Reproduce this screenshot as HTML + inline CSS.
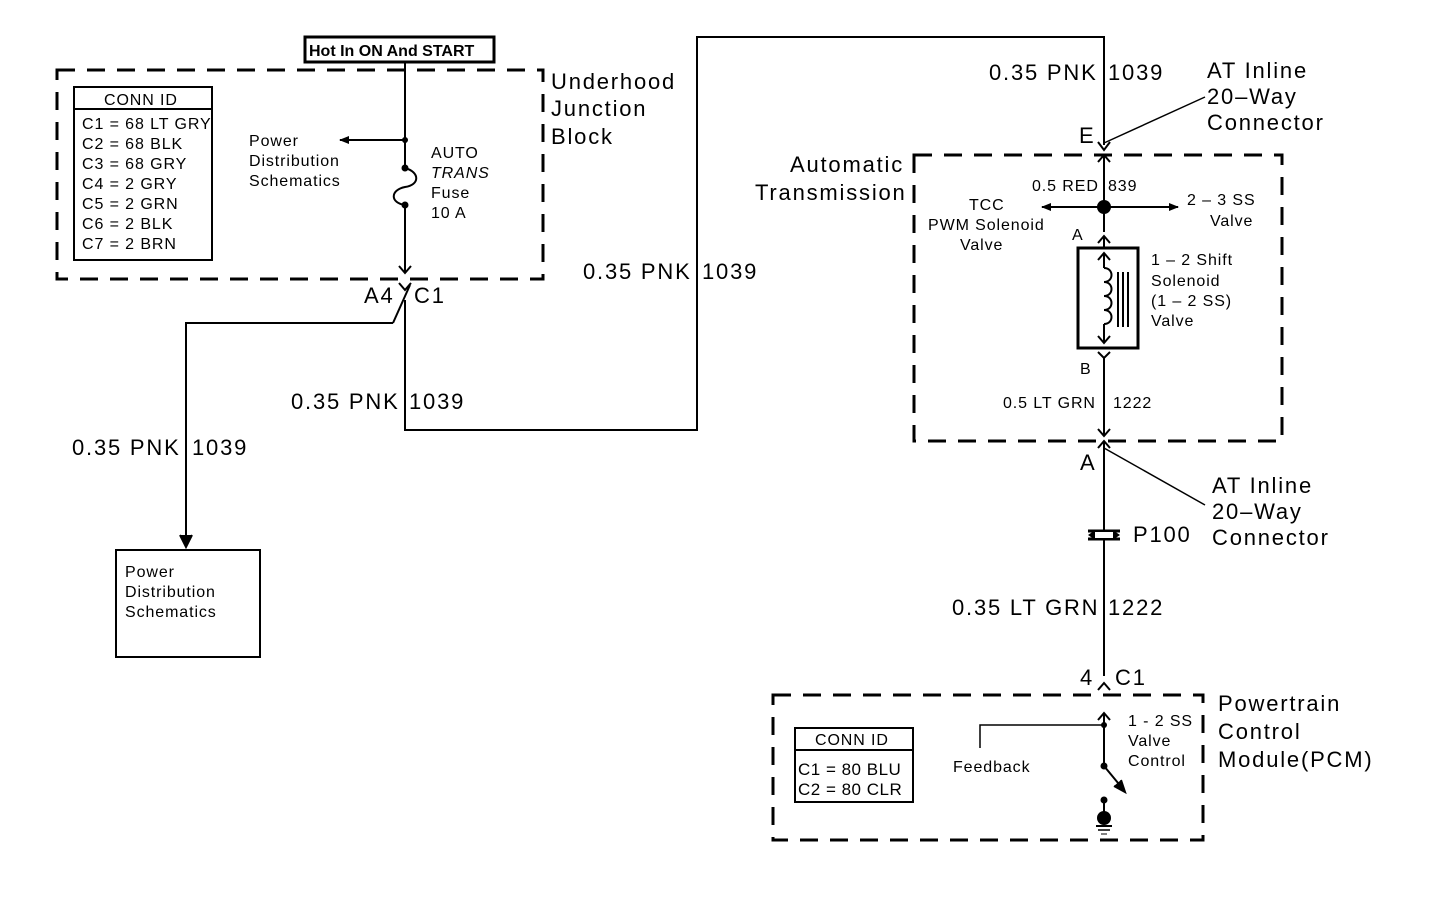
<!DOCTYPE html>
<html><head><meta charset="utf-8"><style>
html,body{margin:0;padding:0;background:#fff;}
svg{display:block;}
text{font-family:"Liberation Sans",sans-serif;fill:#000;}
.b{font-size:22px;letter-spacing:1.8px;}
.s{font-size:16px;letter-spacing:0.9px;}
</style></head><body>
<svg width="1440" height="910" viewBox="0 0 1440 910" xmlns="http://www.w3.org/2000/svg">
<defs>
<marker id="ar" markerWidth="10" markerHeight="8" refX="9" refY="4" orient="auto" markerUnits="userSpaceOnUse"><path d="M0,0 L10,4 L0,8 z" fill="#000"/></marker>
</defs>
<g fill="none" stroke="#000" stroke-width="2">
<rect x="57" y="70" width="486" height="209" stroke-width="3" stroke-dasharray="18,12"/>
<rect x="914" y="155" width="368" height="286" stroke-width="3" stroke-dasharray="18,12"/>
<rect x="773" y="695" width="430" height="145" stroke-width="3" stroke-dasharray="18,12"/>
<rect x="305" y="37" width="189" height="25" stroke-width="3"/>
<rect x="74" y="87" width="138" height="173"/>
<line x1="74" y1="109" x2="212" y2="109"/>
<rect x="795" y="728" width="118" height="74"/>
<line x1="795" y1="750" x2="913" y2="750"/>
<line x1="405" y1="62" x2="405" y2="168"/>
<path d="M405,168 C420,172 420,185 405,187 C390,190 390,203 405,205"/>
<line x1="405" y1="205" x2="405" y2="272"/>
<path d="M399,266 L405,273 L411,266"/>
<line x1="405" y1="140" x2="340" y2="140" marker-end="url(#ar)"/>
<path d="M399,283 L405,290 L411,283"/>
<line x1="410" y1="285" x2="393" y2="323"/>
<polyline points="393,323 186,323 186,540"/>
<path d="M180,535 L186,547 L192,535" fill="#000"/>
<polyline points="405,300 405,430 697,430 697,37 1104,37 1104,145"/>
<rect x="116" y="550" width="144" height="107"/>
<path d="M1098,142 L1104,150 L1110,142"/>
<line x1="1104" y1="143" x2="1205" y2="97" stroke-width="1.5"/>
<path d="M1098,162 L1104,155 L1110,162"/>
<line x1="1104" y1="156" x2="1104" y2="232"/>
<line x1="1104" y1="207" x2="1042" y2="207" marker-end="url(#ar)"/>
<line x1="1104" y1="207" x2="1178" y2="207" marker-end="url(#ar)"/>
<path d="M1098,243 L1104,236 L1110,243"/>
<line x1="1104" y1="237" x2="1104" y2="248"/>
<rect x="1078" y="248" width="60" height="100" stroke-width="3"/>
<path d="M1098,260 L1104,253 L1110,260"/>
<line x1="1104" y1="254" x2="1104" y2="268"/>
<path d="M1104,268 c10,0 10,14 0,14 c10,0 10,14 0,14 c10,0 10,14 0,14 c10,0 10,14 0,14"/>
<line x1="1104" y1="324" x2="1104" y2="342"/>
<path d="M1098,336 L1104,343 L1110,336"/>
<line x1="1118" y1="272" x2="1118" y2="327"/>
<line x1="1123" y1="272" x2="1123" y2="327"/>
<line x1="1128" y1="272" x2="1128" y2="327"/>
<path d="M1098,352 L1104,358 L1110,352"/>
<line x1="1104" y1="358" x2="1104" y2="436"/>
<path d="M1098,429 L1104,436 L1110,429"/>
<path d="M1098,448 L1104,441 L1110,448"/>
<line x1="1104" y1="448" x2="1205" y2="505" stroke-width="1.5"/>
<line x1="1104" y1="442" x2="1104" y2="676"/>
<line x1="1088" y1="531" x2="1120" y2="531" stroke-width="3"/>
<line x1="1088" y1="539" x2="1120" y2="539" stroke-width="3"/>
<rect x="1094" y="531" width="20" height="8" fill="#fff"/>
<path d="M1098,690 L1104,683 L1110,690"/>
<path d="M1098,720 L1104,713 L1110,720"/>
<line x1="1104" y1="714" x2="1104" y2="766"/>
<polyline points="1104,725 980,725 980,748" stroke-width="1.5"/>
<line x1="1104" y1="766" x2="1123" y2="789"/>
<path d="M1114,786 L1125,792 L1121,780" fill="#000"/>
<line x1="1104" y1="800" x2="1104" y2="815"/>
<line x1="1096" y1="826" x2="1112" y2="826"/>
<line x1="1098" y1="830" x2="1110" y2="830" stroke-width="1.5"/>
<line x1="1101" y1="834" x2="1107" y2="834" stroke-width="1"/>
</g>
<g fill="#000">
<circle cx="405" cy="140" r="3"/>
<circle cx="405" cy="168" r="3.5"/>
<circle cx="405" cy="205" r="3.5"/>
<circle cx="1104" cy="207" r="7"/>
<circle cx="1104" cy="725" r="3"/>
<circle cx="1104" cy="766" r="3.5"/>
<circle cx="1104" cy="800" r="3.5"/>
<circle cx="1104" cy="818" r="7"/>
<path d="M1088,535 L1094,531 L1094,539 z"/>
<path d="M1120,535 L1114,531 L1114,539 z"/>
</g>
<text x="309" y="56" style="font-size:16px;font-weight:bold">Hot In ON And START</text>
<text x="104" y="105" class="s">CONN ID</text>
<g class="s">
<text x="82" y="129">C1 = 68 LT GRY</text>
<text x="82" y="149">C2 = 68 BLK</text>
<text x="82" y="169">C3 = 68 GRY</text>
<text x="82" y="189">C4 = 2 GRY</text>
<text x="82" y="209">C5 = 2 GRN</text>
<text x="82" y="229">C6 = 2 BLK</text>
<text x="82" y="249">C7 = 2 BRN</text>
<text x="249" y="146">Power</text>
<text x="249" y="166">Distribution</text>
<text x="249" y="186">Schematics</text>
<text x="431" y="158">AUTO</text>
<text x="431" y="178" font-style="italic">TRANS</text>
<text x="431" y="198">Fuse</text>
<text x="431" y="218">10 A</text>
<text x="125" y="577">Power</text>
<text x="125" y="597">Distribution</text>
<text x="125" y="617">Schematics</text>
<text x="1032" y="191">0.5 RED</text>
<text x="1108" y="191">839</text>
<text x="969" y="210">TCC</text>
<text x="928" y="230">PWM Solenoid</text>
<text x="960" y="250">Valve</text>
<text x="1187" y="205">2 – 3 SS</text>
<text x="1210" y="226">Valve</text>
<text x="1072" y="240">A</text>
<text x="1151" y="265">1 – 2 Shift</text>
<text x="1151" y="286">Solenoid</text>
<text x="1151" y="306">(1 – 2 SS)</text>
<text x="1151" y="326">Valve</text>
<text x="1080" y="374">B</text>
<text x="1003" y="408">0.5 LT GRN</text>
<text x="1113" y="408">1222</text>
<text x="815" y="745">CONN ID</text>
<text x="953" y="772">Feedback</text>
<text x="1128" y="726">1 - 2 SS</text>
<text x="1128" y="746">Valve</text>
<text x="1128" y="766">Control</text>
</g>
<g style="font-size:17px;letter-spacing:0.5px">
<text x="798" y="775">C1 = 80 BLU</text>
<text x="798" y="795">C2 = 80 CLR</text>
</g>
<g class="b">
<text x="551" y="89">Underhood</text>
<text x="551" y="116">Junction</text>
<text x="551" y="144">Block</text>
<text x="364" y="303">A4</text>
<text x="414" y="303">C1</text>
<text x="583" y="279">0.35 PNK</text>
<text x="702" y="279">1039</text>
<text x="291" y="409">0.35 PNK</text>
<text x="409" y="409">1039</text>
<text x="72" y="455">0.35 PNK</text>
<text x="192" y="455">1039</text>
<text x="989" y="80">0.35 PNK</text>
<text x="1108" y="80">1039</text>
<text x="1207" y="78">AT Inline</text>
<text x="1207" y="104">20–Way</text>
<text x="1207" y="130">Connector</text>
<text x="1079" y="143">E</text>
<text x="790" y="172">Automatic</text>
<text x="755" y="200">Transmission</text>
<text x="1080" y="470">A</text>
<text x="1212" y="493">AT Inline</text>
<text x="1212" y="519">20–Way</text>
<text x="1212" y="545">Connector</text>
<text x="1133" y="542">P100</text>
<text x="952" y="615">0.35 LT GRN</text>
<text x="1108" y="615">1222</text>
<text x="1080" y="685">4</text>
<text x="1115" y="685">C1</text>
<text x="1218" y="711">Powertrain</text>
<text x="1218" y="739">Control</text>
<text x="1218" y="767">Module(PCM)</text>
</g>
</svg>
</body></html>
